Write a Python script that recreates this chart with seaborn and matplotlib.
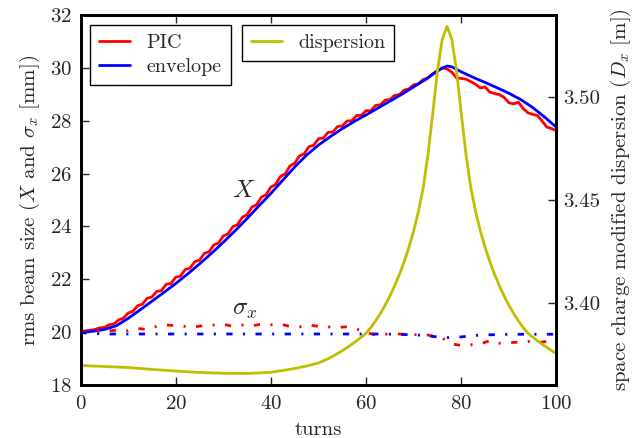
import matplotlib
matplotlib.use("Agg")
import matplotlib.pyplot as plt
import seaborn as sns

# ---- data -------------------------------------------------------------
# PIC simulation: rms beam size X [mm] per turn
pic_turns = list(range(0, 101))
pic_X = [
    20.02, 20.05, 20.07, 20.10, 20.16, 20.18, 20.28, 20.31, 20.46, 20.53,
    20.72, 20.79, 21.00, 21.06, 21.28, 21.33, 21.54, 21.57, 21.81, 21.84,
    22.08, 22.12, 22.37, 22.42, 22.67, 22.72, 22.98, 23.04, 23.30, 23.37,
    23.64, 23.72, 23.99, 24.07, 24.35, 24.44, 24.73, 24.82, 25.11, 25.20,
    25.49, 25.59, 25.89, 25.99, 26.29, 26.39, 26.67, 26.75, 27.02, 27.07,
    27.32, 27.34, 27.56, 27.57, 27.78, 27.80, 27.99, 28.00, 28.20, 28.20,
    28.38, 28.38, 28.58, 28.60, 28.78, 28.80, 28.96, 28.99, 29.16, 29.20,
    29.36, 29.40, 29.56, 29.62, 29.78, 29.90, 30.00, 29.96, 29.84, 29.62,
    29.60, 29.57, 29.48, 29.38, 29.24, 29.28, 29.08, 29.03, 28.99, 28.88,
    28.68, 28.64, 28.70, 28.46, 28.30, 28.24, 28.20, 27.98, 27.76, 27.70,
    27.62,
]

# envelope model: rms beam size X [mm]
env_turns = [0, 2.5, 5, 7.5, 10, 12.5, 15, 17.5, 20, 22.5, 25, 27.5, 30,
             32.5, 35, 37.5, 40, 42.5, 45, 47.5, 50, 52.5, 55, 57.5, 60,
             62.5, 65, 67.5, 70, 72.5, 75, 76, 77, 78, 80, 82.5, 85, 87.5,
             90, 92.5, 95, 97.5, 100]
env_X = [20.00, 20.03, 20.10, 20.24, 20.52, 20.84, 21.17, 21.50, 21.84,
         22.20, 22.58, 22.98, 23.40, 23.84, 24.30, 24.78, 25.25, 25.75,
         26.25, 26.70, 27.08, 27.40, 27.70, 27.97, 28.22, 28.48, 28.74,
         29.00, 29.28, 29.56, 29.88, 29.99, 30.07, 30.04, 29.85, 29.64,
         29.45, 29.25, 29.04, 28.80, 28.50, 28.14, 27.75]

# rms beam size sigma_x [mm]
sig_turns = list(range(0, 101, 2))
pic_sigma = [
    20.02, 20.04, 20.03, 20.05, 20.08, 20.05, 20.14, 20.10, 20.22, 20.27,
    20.25, 20.22, 20.20, 20.25, 20.27, 20.30, 20.22, 20.27, 20.24, 20.30,
    20.28, 20.30, 20.22, 20.20, 20.27, 20.22, 20.20, 20.18, 20.20, 20.12,
    19.98, 19.90, 19.92, 19.94, 19.92, 19.90, 19.93, 19.85, 19.78, 19.55,
    19.50, 19.52, 19.55, 19.68, 19.58, 19.60, 19.62, 19.65, 19.60, 19.65,
    19.75,
]
env_sigma = [
    19.98, 19.96, 19.94, 19.93, 19.93, 19.93, 19.93, 19.93, 19.93, 19.93,
    19.93, 19.93, 19.93, 19.93, 19.93, 19.93, 19.93, 19.93, 19.93, 19.93,
    19.93, 19.93, 19.93, 19.93, 19.93, 19.93, 19.93, 19.93, 19.93, 19.93,
    19.93, 19.93, 19.93, 19.92, 19.91, 19.90, 19.88, 19.84, 19.80, 19.79,
    19.82, 19.86, 19.89, 19.90, 19.91, 19.92, 19.92, 19.92, 19.92, 19.92,
    19.92,
]

# space charge modified dispersion D_x [m]
disp_turns = [0, 5, 10, 15, 20, 25, 30, 35, 40, 45, 48] + list(range(50, 101))
disp_D = [
    3.3695, 3.3690, 3.3685, 3.3676, 3.3668, 3.3661, 3.3657, 3.3656, 3.3662,
    3.3680, 3.3695,
    3.3707, 3.3717, 3.3728, 3.3740, 3.3753, 3.3767, 3.3782, 3.3798, 3.3815,
    3.3833, 3.3852, 3.3880, 3.3912, 3.3948, 3.3988, 3.4033, 3.4083, 3.4138,
    3.4200, 3.4270, 3.4350, 3.4445, 3.4560, 3.4720, 3.4920, 3.5130, 3.5283,
    3.5345, 3.5283, 3.5130, 3.4920, 3.4720, 3.4560, 3.4445, 3.4350, 3.4270,
    3.4200, 3.4138, 3.4083, 3.4033, 3.3988, 3.3948, 3.3912, 3.3880, 3.3852,
    3.3833, 3.3815, 3.3798, 3.3782, 3.3767, 3.3753,
]

x_ticks = [0, 20, 40, 60, 80, 100]
left_ticks = [18, 20, 22, 24, 26, 28, 30, 32]
right_ticks = [3.40, 3.45, 3.50]

# ---- style ------------------------------------------------------------
sns.set_style("ticks")
plt.rcParams.update({
    "font.family": "serif",
    "font.serif": ["cmr10"],
    "mathtext.fontset": "cm",
    "axes.formatter.use_mathtext": True,
    "axes.unicode_minus": False,
    "lines.scale_dashes": False,
})

RED = (1.0, 0.0, 0.0)
BLUE = (0.0, 0.0, 1.0)
OLIVE = (0.75, 0.75, 0.0)
LW = 2.0
DASHDOT = (0, (4.5, 7.5, 1.5, 7.5))

fig = plt.figure(figsize=(6.4, 4.38), dpi=100)
ax1 = fig.add_axes([0.1258, 0.121, 0.7437, 0.8447])
ax2 = ax1.twinx()

sns.lineplot(x=pic_turns, y=pic_X, ax=ax1, color=RED, lw=LW,
             errorbar=None, label="PIC")
sns.lineplot(x=env_turns, y=env_X, ax=ax1, color=BLUE, lw=LW,
             errorbar=None, label="envelope")
sns.lineplot(x=sig_turns, y=pic_sigma, ax=ax1, color=RED, lw=LW,
             linestyle=DASHDOT, errorbar=None)
sns.lineplot(x=sig_turns, y=env_sigma, ax=ax1, color=BLUE, lw=LW,
             linestyle=DASHDOT, errorbar=None)
sns.lineplot(x=disp_turns, y=disp_D, ax=ax2, color=OLIVE, lw=LW,
             errorbar=None, label="dispersion")

ax1.set_xlim(0, 100)
ax1.set_ylim(18, 32)
ax2.set_ylim(3.36, 3.54)
ax1.set_xticks(x_ticks)
ax1.set_yticks(left_ticks)
ax2.set_yticks(right_ticks)
ax2.set_yticklabels([f"{v:.2f}" for v in right_ticks])

ax1.tick_params(axis="both", direction="in", length=6, width=1,
                labelsize=15, top=True, right=False)
ax1.tick_params(axis="x", pad=7)
ax1.tick_params(axis="y", pad=6)
ax2.tick_params(axis="y", direction="in", length=6, width=1,
                labelsize=15, pad=5)

for ax in (ax1, ax2):
    for sp in ax.spines.values():
        sp.set_visible(True)
        sp.set_linewidth(2.0)
        sp.set_color("black")

ax1.set_xlabel("turns", fontsize=15, labelpad=6)
ax1.set_ylabel(r"rms beam size ($X$ and $\sigma_x$ [mm])", fontsize=15,
               labelpad=6)
ax2.set_ylabel(r"space charge modified dispersion ($D_x$ [m])",
               fontsize=15, labelpad=6)

ax1.text(34.3, 25.35, r"$X$", fontsize=18, ha="center", va="center")
ax1.text(34.6, 20.85, r"$\sigma_x$", fontsize=18, ha="center", va="center")

legend_kw = dict(loc="upper left", borderaxespad=0, fontsize=14.5,
                 frameon=True, fancybox=False, edgecolor="black",
                 framealpha=1, handlelength=1.55, handletextpad=0.8,
                 borderpad=0.45, labelspacing=0.3)
lines1 = ax1.get_lines()
leg1 = ax1.legend(handles=[lines1[0], lines1[1]], labels=["PIC", "envelope"],
                  bbox_to_anchor=(0.02, 0.973), **legend_kw)
leg1.get_frame().set_linewidth(1.0)
lines2 = ax2.get_lines()
leg2 = ax2.legend(handles=[lines2[0]], labels=["dispersion"],
                  bbox_to_anchor=(0.3387, 0.973), **legend_kw)
leg2.get_frame().set_linewidth(1.0)

fig.savefig("out.png", dpi=100)
